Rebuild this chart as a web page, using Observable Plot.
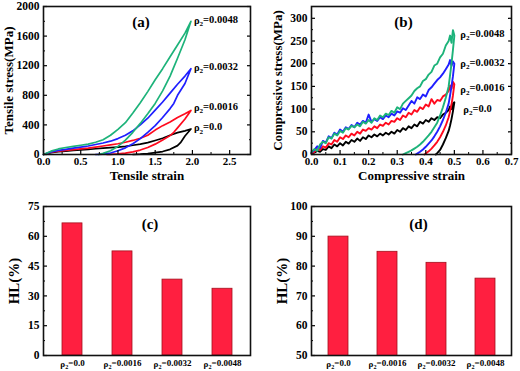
<!DOCTYPE html>
<html>
<head>
<meta charset="utf-8">
<script src="https://cdn.jsdelivr.net/npm/d3@7"></script>
<script src="https://cdn.jsdelivr.net/npm/@observablehq/plot@0.6"></script>
<style>
  html, body { margin: 0; padding: 0; background: #fff; }
  #wrap { position: relative; width: 520px; height: 371px; overflow: hidden; background: #fff; }
  .panel { position: absolute; }
</style>
</head>
<body>
<div id="wrap">
  <div class="panel" id="pa" style="left:0;top:0"></div>
  <div class="panel" id="pb" style="left:260px;top:0"></div>
  <div class="panel" id="pc" style="left:0;top:185px"></div>
  <div class="panel" id="pd" style="left:260px;top:185px"></div>
</div>
<script>
// ---------- Data ----------
const seriesNames = ["ρ2=0.0", "ρ2=0.0016", "ρ2=0.0032", "ρ2=0.0048"];
const seriesColors = ["#000000", "#ff0a1e", "#1f1fff", "#1db37a"];

// (a) tensile loading/unloading loops [strain, stress MPa]
const tensile_00 = [[0,0],[0.1,25],[0.2,38],[0.3,45],[0.4,55],[0.5,63],[0.6,70],[0.7,78],[0.8,85],[0.9,92],[1.0,100],[1.1,110],[1.2,125],[1.3,140],[1.4,160],[1.5,190],[1.6,220],[1.7,260],[1.8,295],[1.9,320],[1.98,345],
  [1.9,250],[1.84,160],[1.8,120],[1.7,70],[1.6,40],[1.5,25],[1.4,12],[1.3,4],[1.2,0]];
const tensile_0016 = [[0,0],[0.1,30],[0.2,45],[0.3,55],[0.4,65],[0.5,75],[0.6,85],[0.7,100],[0.8,115],[0.9,130],[1.0,145],[1.1,165],[1.2,190],[1.3,220],[1.4,260],[1.5,330],[1.6,390],[1.7,440],[1.8,500],[1.9,550],[1.98,596],
  [1.9,480],[1.8,360],[1.75,300],[1.7,255],[1.6,195],[1.5,140],[1.4,95],[1.3,60],[1.2,35],[1.1,18],[1.0,8],[0.9,2],[0.85,0]];
const tensile_0032 = [[0,0],[0.1,35],[0.2,55],[0.3,70],[0.4,85],[0.5,100],[0.6,115],[0.7,135],[0.8,155],[0.9,180],[1.0,215],[1.1,260],[1.2,320],[1.3,400],[1.4,490],[1.5,600],[1.6,710],[1.7,830],[1.8,950],[1.9,1060],[1.98,1160],
  [1.9,960],[1.8,800],[1.75,690],[1.7,620],[1.6,500],[1.5,390],[1.4,300],[1.3,215],[1.2,145],[1.1,90],[1.0,50],[0.9,20],[0.8,5],[0.7,0]];
const tensile_0048 = [[0,0],[0.1,45],[0.2,75],[0.3,95],[0.4,110],[0.5,125],[0.6,140],[0.7,165],[0.8,200],[0.9,260],[1.0,340],[1.1,430],[1.2,560],[1.3,700],[1.4,850],[1.5,1010],[1.6,1160],[1.7,1320],[1.8,1480],[1.9,1640],[1.98,1800],
  [1.9,1550],[1.8,1300],[1.75,1180],[1.7,1060],[1.6,860],[1.5,690],[1.4,550],[1.3,420],[1.2,300],[1.1,195],[1.0,110],[0.9,50],[0.8,15],[0.74,0]];
const tensilePeaks = [[1.98,345],[1.98,596],[1.98,1160],[1.98,1800]];

// (b) compressive loading/unloading loops [strain, stress MPa]
const compress_00 = [[0,2],[0.01,4],[0.02,8],[0.03,6],[0.04,12],[0.05,10],[0.06,18],[0.07,14],[0.08,22],[0.09,18],[0.10,25],[0.11,20],[0.12,28],[0.13,24],[0.14,32],[0.15,28],[0.16,35],[0.17,30],[0.18,38],[0.19,34],[0.20,42],[0.21,38],[0.22,44],[0.23,40],[0.24,46],[0.25,42],[0.26,48],[0.27,44],[0.28,50],[0.29,46],[0.30,54],[0.31,50],[0.32,58],[0.33,54],[0.34,62],[0.35,58],[0.36,66],[0.37,62],[0.38,72],[0.39,68],[0.40,76],[0.41,72],[0.42,80],[0.43,76],[0.44,82],[0.45,80],[0.46,88],[0.47,92],[0.48,98],[0.485,106],[0.49,100],[0.495,112],[0.50,115],
  [0.495,95],[0.49,78],[0.485,64],[0.48,52],[0.47,36],[0.46,22],[0.45,10],[0.44,3],[0.435,0]];
const compress_0016 = [[0,3],[0.01,6],[0.02,12],[0.03,10],[0.04,18],[0.05,15],[0.06,25],[0.07,22],[0.08,32],[0.09,28],[0.10,38],[0.11,34],[0.12,42],[0.13,38],[0.14,46],[0.15,42],[0.16,50],[0.17,46],[0.18,55],[0.19,52],[0.20,58],[0.21,55],[0.22,62],[0.23,58],[0.24,66],[0.25,63],[0.26,70],[0.27,66],[0.28,74],[0.29,72],[0.30,80],[0.31,76],[0.32,86],[0.33,82],[0.34,92],[0.35,88],[0.36,98],[0.37,94],[0.38,104],[0.39,100],[0.40,110],[0.41,106],[0.42,122],[0.43,112],[0.44,120],[0.45,118],[0.46,128],[0.47,132],[0.48,140],[0.485,152],[0.49,145],[0.495,160],[0.50,155],
  [0.495,130],[0.49,110],[0.485,95],[0.48,82],[0.47,64],[0.46,50],[0.45,38],[0.44,28],[0.43,20],[0.42,13],[0.41,7],[0.40,2],[0.395,0]];
const compress_0032 = [[0,4],[0.01,10],[0.02,18],[0.03,14],[0.04,30],[0.05,26],[0.06,40],[0.07,36],[0.08,48],[0.09,44],[0.10,55],[0.11,50],[0.12,60],[0.13,56],[0.14,65],[0.15,60],[0.16,70],[0.17,66],[0.18,74],[0.19,70],[0.20,88],[0.21,72],[0.22,78],[0.23,74],[0.24,82],[0.25,78],[0.26,86],[0.27,82],[0.28,90],[0.29,86],[0.30,95],[0.31,92],[0.32,102],[0.33,98],[0.34,108],[0.35,118],[0.36,112],[0.37,126],[0.38,122],[0.39,132],[0.40,128],[0.41,142],[0.42,148],[0.43,156],[0.44,164],[0.45,170],[0.46,178],[0.47,188],[0.48,198],[0.485,208],[0.49,195],[0.495,205],[0.50,200],
  [0.495,172],[0.49,150],[0.485,130],[0.48,112],[0.47,92],[0.46,76],[0.45,62],[0.44,50],[0.43,40],[0.42,31],[0.41,24],[0.40,17],[0.39,11],[0.38,6],[0.37,2],[0.365,0]];
const compress_0048 = [[0,5],[0.01,12],[0.02,8],[0.03,22],[0.04,28],[0.05,25],[0.06,38],[0.07,35],[0.08,46],[0.09,42],[0.10,52],[0.11,48],[0.12,58],[0.13,55],[0.14,63],[0.15,60],[0.16,66],[0.17,62],[0.18,72],[0.19,68],[0.20,76],[0.21,70],[0.22,80],[0.23,76],[0.24,86],[0.25,82],[0.26,90],[0.27,87],[0.28,96],[0.29,92],[0.30,104],[0.31,100],[0.32,112],[0.33,118],[0.34,124],[0.35,130],[0.36,140],[0.37,146],[0.38,150],[0.39,162],[0.40,166],[0.41,176],[0.42,182],[0.43,196],[0.44,200],[0.45,214],[0.46,222],[0.47,240],[0.48,250],[0.485,262],[0.49,246],[0.495,274],[0.50,262],
  [0.495,230],[0.49,200],[0.485,175],[0.48,150],[0.47,125],[0.46,104],[0.45,86],[0.44,70],[0.43,60],[0.42,50],[0.41,42],[0.40,35],[0.39,28],[0.38,22],[0.37,17],[0.36,13],[0.35,9],[0.34,6],[0.33,3],[0.32,0]];
const compressPeaks = [[0.50,115],[0.50,155],[0.50,205],[0.50,262]];

// (c),(d) hysteresis loss bars
const hlCategories = ["ρ2=0.0", "ρ2=0.0016", "ρ2=0.0032", "ρ2=0.0048"];
const hlTensile = [66.5, 52.4, 38.2, 33.6];
const hlCompressive = [89.9, 84.8, 81.1, 75.8];

// tick labels
const ticksA_x = [0, 0.5, 1.0, 1.5, 2.0, 2.5];
const ticksA_y = [0, 400, 800, 1200, 1600, 2000];
const ticksB_x = [0, 0.1, 0.2, 0.3, 0.4, 0.5, 0.6, 0.7];
const ticksB_y = [0, 50, 100, 150, 200, 250, 300];
const ticksC_y = [0, 15, 30, 45, 60, 75];
const ticksD_y = [50, 60, 70, 80, 90, 100];

// ---------- Rendering ----------
const FONT = "'Liberation Serif', 'Times New Roman', Times, serif";
const mid = (t) => t.slice(1).map((v, i) => (v + t[i]) / 2);
const plain = (d) => String(d);

function subscripts(svg) {
  d3.select(svg).selectAll("text").each(function () {
    const el = d3.select(this);
    if (this.querySelector("tspan")) {
      el.selectAll("tspan").each(function () { fix(d3.select(this)); });
    } else fix(el);
  });
  function fix(el) {
    const t = el.text();
    if (!t.startsWith("ρ2")) return;
    el.text("");
    el.append("tspan").text("ρ");
    el.append("tspan").attr("font-size", "0.68em").attr("dy", "0.32em").text("2");
    el.append("tspan").attr("dy", "-0.32em").text(t.slice(2));
  }
}

function curvePanel(opts) {
  const { curves, peaks, xDomain, yDomain, xt, yt, xFmt, tag, tagDx, xTitle, yTitle, ml, mr, labelOffsets, lw } = opts;
  const rows = [];
  curves.forEach((c, i) => c.forEach((p) => rows.push({ s: i, x: p[0], y: p[1] })));
  const labels = peaks.map((p, i) => ({ s: i, x: p[0], y: p[1], name: seriesNames[i], dx: labelOffsets[i][0], dy: labelOffsets[i][1] }));
  const p = Plot.plot({
    width: 260, height: 185,
    marginLeft: ml, marginRight: mr, marginTop: 6, marginBottom: 31,
    style: { fontFamily: FONT, fontWeight: "bold", fontSize: "11.5px", color: "#000", background: "transparent", overflow: "visible" },
    x: { domain: xDomain },
    y: { domain: yDomain },
    marks: [
      ...[0, 1, 2, 3].map((i) => Plot.line(rows.filter((r) => r.s === i), { x: "x", y: "y", stroke: seriesColors[i], strokeWidth: lw, strokeLinejoin: "round" })),
      Plot.axisX(xt, { tickSize: -4, tickPadding: 6.5, tickFormat: xFmt, label: null, strokeWidth: 1.2, fontSize: 11 }),
      Plot.axisX(mid(xt), { tickSize: -2, tickFormat: () => "", label: null, strokeWidth: 1 }),
      Plot.axisY(yt, { tickSize: -4, tickPadding: 8, tickFormat: plain, label: null, strokeWidth: 1.2 }),
      Plot.axisY(mid(yt), { tickSize: -2, tickFormat: () => "", label: null, strokeWidth: 1 }),
      Plot.axisY(yt, { anchor: "right", tickSize: -4, tickFormat: () => "", label: null, strokeWidth: 1.2 }),
      Plot.axisY(mid(yt), { anchor: "right", tickSize: -2, tickFormat: () => "", label: null, strokeWidth: 1 }),
      Plot.frame({ stroke: "#111", strokeWidth: 1.6 }),
      ...labels.map((l) => Plot.text([l], { x: "x", y: "y", text: "name", textAnchor: "start", dx: l.dx, dy: l.dy, fontSize: 10.5, fontWeight: "bold", fill: "#000" })),
      Plot.text([tag], { frameAnchor: "top", dx: tagDx, dy: 10, fontSize: 15, fontWeight: "bold" }),
      Plot.text([xTitle], { frameAnchor: "bottom", dy: 25.5, fontSize: 13, fontWeight: "bold" }),
      Plot.text([yTitle], { frameAnchor: "left", textAnchor: "middle", rotate: -90, dx: opts.yTitleDx, fontSize: 13, fontWeight: "bold" })
    ]
  });
  subscripts(p);
  return p;
}

function barPanel(opts) {
  const { values, yDomain, yt, tag, tagDx, ml, mr } = opts;
  const rows = hlCategories.map((c, i) => ({ c, v: values[i] }));
  const p = Plot.plot({
    width: 260, height: 186,
    marginLeft: ml, marginRight: mr, marginTop: 21, marginBottom: 16,
    style: { fontFamily: FONT, fontWeight: "bold", fontSize: "11.5px", color: "#000", background: "transparent", overflow: "visible" },
    x: { domain: hlCategories, paddingInner: 0.6, paddingOuter: 0.34 },
    y: { domain: yDomain },
    marks: [
      Plot.barY(rows, { x: "c", y: "v", fill: "#ff1f40", stroke: "#a3101c", strokeWidth: 0.8, clip: true }),
      Plot.axisX({ tickSize: 0, tickPadding: 5, label: null, fontSize: 9 }),
      Plot.axisY(yt, { tickSize: -4, tickPadding: 8, tickFormat: plain, label: null, strokeWidth: 1.2 }),
      Plot.axisY(mid(yt), { tickSize: -2, tickFormat: () => "", label: null, strokeWidth: 1 }),
      Plot.frame({ stroke: "#111", strokeWidth: 1.6 }),
      Plot.text([tag], { frameAnchor: "top", dx: tagDx, dy: 12, fontSize: 15, fontWeight: "bold" }),
      Plot.text(["HL(%)"], { frameAnchor: "left", textAnchor: "middle", rotate: -90, dx: opts.yTitleDx, fontSize: 15, fontWeight: "bold" })
    ]
  });
  subscripts(p);
  return p;
}

document.getElementById("pa").append(curvePanel({
  curves: [tensile_00, tensile_0016, tensile_0032, tensile_0048], peaks: tensilePeaks,
  xDomain: [0, 2.78], yDomain: [0, 2000], xt: ticksA_x, yt: ticksA_y, xFmt: (d) => d.toFixed(1),
  tag: "(a)", tagDx: -6, xTitle: "Tensile strain", yTitle: "Tensile stress(MPa)", ml: 43, mr: 10, yTitleDx: -35, lw: 1.7,
  labelOffsets: [[3, -1], [3, -3], [3, -1], [3, -1]]
}));
document.getElementById("pb").append(curvePanel({
  curves: [compress_00, compress_0016, compress_0032, compress_0048], peaks: compressPeaks,
  xDomain: [0, 0.7], yDomain: [0, 326], xt: ticksB_x, yt: ticksB_y, xFmt: (d) => d.toFixed(1),
  tag: "(b)", tagDx: -8, xTitle: "Compressive strain", yTitle: "Compressive stress(MPa)", ml: 51, mr: 9, yTitleDx: -34, lw: 1.9,
  labelOffsets: [[9, 7], [6, 5], [6, 2], [6, -1]]
}));
document.getElementById("pc").append(barPanel({
  values: hlTensile, yDomain: [0, 75], yt: ticksC_y, tag: "(c)", tagDx: 3, ml: 43, mr: 10, yTitleDx: -29
}));
document.getElementById("pd").append(barPanel({
  values: hlCompressive, yDomain: [50, 100], yt: ticksD_y, tag: "(d)", tagDx: 7, ml: 51, mr: 9, yTitleDx: -29
}));
</script>
</body>
</html>
